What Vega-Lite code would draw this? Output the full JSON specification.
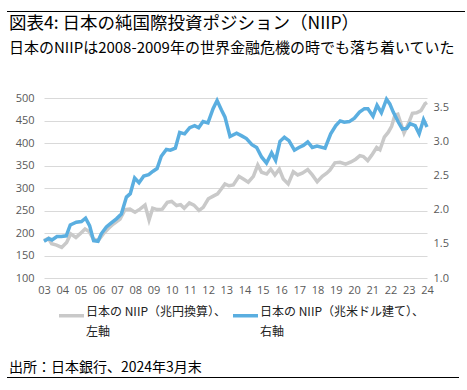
{
  "$schema": "https://vega.github.io/schema/vega-lite/v6.json",
  "padding": {"left": 7, "top": 11, "right": 0, "bottom": 0},
  "background": "white",
  "config": {"view": {"stroke": null}, "font": "Noto Sans CJK JP", "style": {"guide-label": {"lineHeight": 20}}},
  "spacing": 2,
  "datasets": {
    "yen": [
      {"t": 2003.0, "v": 183, "s": "日本の NIIP（兆円換算）、|左軸"},
      {"t": 2003.24, "v": 188, "s": "日本の NIIP（兆円換算）、|左軸"},
      {"t": 2003.42, "v": 176, "s": "日本の NIIP（兆円換算）、|左軸"},
      {"t": 2003.69, "v": 173, "s": "日本の NIIP（兆円換算）、|左軸"},
      {"t": 2003.97, "v": 168, "s": "日本の NIIP（兆円換算）、|左軸"},
      {"t": 2004.24, "v": 179, "s": "日本の NIIP（兆円換算）、|左軸"},
      {"t": 2004.46, "v": 198, "s": "日本の NIIP（兆円換算）、|左軸"},
      {"t": 2004.75, "v": 190, "s": "日本の NIIP（兆円換算）、|左軸"},
      {"t": 2004.97, "v": 198, "s": "日本の NIIP（兆円換算）、|左軸"},
      {"t": 2005.25, "v": 209, "s": "日本の NIIP（兆円換算）、|左軸"},
      {"t": 2005.48, "v": 203, "s": "日本の NIIP（兆円換算）、|左軸"},
      {"t": 2005.7, "v": 187, "s": "日本の NIIP（兆円換算）、|左軸"},
      {"t": 2005.97, "v": 183, "s": "日本の NIIP（兆円換算）、|左軸"},
      {"t": 2006.25, "v": 198, "s": "日本の NIIP（兆円換算）、|左軸"},
      {"t": 2006.53, "v": 210, "s": "日本の NIIP（兆円換算）、|左軸"},
      {"t": 2006.8, "v": 220, "s": "日本の NIIP（兆円換算）、|左軸"},
      {"t": 2007.17, "v": 231, "s": "日本の NIIP（兆円換算）、|左軸"},
      {"t": 2007.44, "v": 252, "s": "日本の NIIP（兆円換算）、|左軸"},
      {"t": 2007.71, "v": 253, "s": "日本の NIIP（兆円換算）、|左軸"},
      {"t": 2007.99, "v": 246, "s": "日本の NIIP（兆円換算）、|左軸"},
      {"t": 2008.26, "v": 253, "s": "日本の NIIP（兆円換算）、|左軸"},
      {"t": 2008.54, "v": 262, "s": "日本の NIIP（兆円換算）、|左軸"},
      {"t": 2008.76, "v": 229, "s": "日本の NIIP（兆円換算）、|左軸"},
      {"t": 2008.96, "v": 255, "s": "日本の NIIP（兆円換算）、|左軸"},
      {"t": 2009.21, "v": 252, "s": "日本の NIIP（兆円換算）、|左軸"},
      {"t": 2009.49, "v": 253, "s": "日本の NIIP（兆円換算）、|左軸"},
      {"t": 2009.76, "v": 268, "s": "日本の NIIP（兆円換算）、|左軸"},
      {"t": 2010.0, "v": 270, "s": "日本の NIIP（兆円換算）、|左軸"},
      {"t": 2010.27, "v": 261, "s": "日本の NIIP（兆円換算）、|左軸"},
      {"t": 2010.49, "v": 263, "s": "日本の NIIP（兆円換算）、|左軸"},
      {"t": 2010.69, "v": 255, "s": "日本の NIIP（兆円換算）、|左軸"},
      {"t": 2010.97, "v": 267, "s": "日本の NIIP（兆円換算）、|左軸"},
      {"t": 2011.22, "v": 262, "s": "日本の NIIP（兆円換算）、|左軸"},
      {"t": 2011.5, "v": 250, "s": "日本の NIIP（兆円換算）、|左軸"},
      {"t": 2011.73, "v": 257, "s": "日本の NIIP（兆円換算）、|左軸"},
      {"t": 2012.01, "v": 276, "s": "日本の NIIP（兆円換算）、|左軸"},
      {"t": 2012.28, "v": 282, "s": "日本の NIIP（兆円換算）、|左軸"},
      {"t": 2012.52, "v": 287, "s": "日本の NIIP（兆円換算）、|左軸"},
      {"t": 2012.74, "v": 299, "s": "日本の NIIP（兆円換算）、|左軸"},
      {"t": 2012.92, "v": 309, "s": "日本の NIIP（兆円換算）、|左軸"},
      {"t": 2013.14, "v": 305, "s": "日本の NIIP（兆円換算）、|左軸"},
      {"t": 2013.38, "v": 307, "s": "日本の NIIP（兆円換算）、|左軸"},
      {"t": 2013.69, "v": 326, "s": "日本の NIIP（兆円換算）、|左軸"},
      {"t": 2013.93, "v": 320, "s": "日本の NIIP（兆円換算）、|左軸"},
      {"t": 2014.2, "v": 313, "s": "日本の NIIP（兆円換算）、|左軸"},
      {"t": 2014.48, "v": 326, "s": "日本の NIIP（兆円換算）、|左軸"},
      {"t": 2014.72, "v": 351, "s": "日本の NIIP（兆円換算）、|左軸"},
      {"t": 2014.93, "v": 335, "s": "日本の NIIP（兆円換算）、|左軸"},
      {"t": 2015.21, "v": 331, "s": "日本の NIIP（兆円換算）、|左軸"},
      {"t": 2015.43, "v": 342, "s": "日本の NIIP（兆円換算）、|左軸"},
      {"t": 2015.66, "v": 329, "s": "日本の NIIP（兆円換算）、|左軸"},
      {"t": 2015.9, "v": 342, "s": "日本の NIIP（兆円換算）、|左軸"},
      {"t": 2016.12, "v": 320, "s": "日本の NIIP（兆円換算）、|左軸"},
      {"t": 2016.39, "v": 309, "s": "日本の NIIP（兆円換算）、|左軸"},
      {"t": 2016.67, "v": 336, "s": "日本の NIIP（兆円換算）、|左軸"},
      {"t": 2016.91, "v": 329, "s": "日本の NIIP（兆円換算）、|左軸"},
      {"t": 2017.16, "v": 333, "s": "日本の NIIP（兆円換算）、|左軸"},
      {"t": 2017.46, "v": 341, "s": "日本の NIIP（兆円換算）、|左軸"},
      {"t": 2017.71, "v": 329, "s": "日本の NIIP（兆円換算）、|左軸"},
      {"t": 2017.98, "v": 314, "s": "日本の NIIP（兆円換算）、|左軸"},
      {"t": 2018.26, "v": 326, "s": "日本の NIIP（兆円換算）、|左軸"},
      {"t": 2018.5, "v": 333, "s": "日本の NIIP（兆円換算）、|左軸"},
      {"t": 2018.68, "v": 340, "s": "日本の NIIP（兆円換算）、|左軸"},
      {"t": 2018.95, "v": 356, "s": "日本の NIIP（兆円換算）、|左軸"},
      {"t": 2019.23, "v": 357, "s": "日本の NIIP（兆円換算）、|左軸"},
      {"t": 2019.54, "v": 353, "s": "日本の NIIP（兆円換算）、|左軸"},
      {"t": 2019.83, "v": 358, "s": "日本の NIIP（兆円換算）、|左軸"},
      {"t": 2020.09, "v": 364, "s": "日本の NIIP（兆円換算）、|左軸"},
      {"t": 2020.32, "v": 372, "s": "日本の NIIP（兆円換算）、|左軸"},
      {"t": 2020.51, "v": 370, "s": "日本の NIIP（兆円換算）、|左軸"},
      {"t": 2020.75, "v": 361, "s": "日本の NIIP（兆円換算）、|左軸"},
      {"t": 2020.97, "v": 373, "s": "日本の NIIP（兆円換算）、|左軸"},
      {"t": 2021.24, "v": 390, "s": "日本の NIIP（兆円換算）、|左軸"},
      {"t": 2021.42, "v": 385, "s": "日本の NIIP（兆円換算）、|左軸"},
      {"t": 2021.66, "v": 413, "s": "日本の NIIP（兆円換算）、|左軸"},
      {"t": 2021.88, "v": 424, "s": "日本の NIIP（兆円換算）、|左軸"},
      {"t": 2022.06, "v": 437, "s": "日本の NIIP（兆円換算）、|左軸"},
      {"t": 2022.24, "v": 462, "s": "日本の NIIP（兆円換算）、|左軸"},
      {"t": 2022.4, "v": 464, "s": "日本の NIIP（兆円換算）、|左軸"},
      {"t": 2022.74, "v": 422, "s": "日本の NIIP（兆円換算）、|左軸"},
      {"t": 2022.97, "v": 442, "s": "日本の NIIP（兆円換算）、|左軸"},
      {"t": 2023.2, "v": 466, "s": "日本の NIIP（兆円換算）、|左軸"},
      {"t": 2023.43, "v": 467, "s": "日本の NIIP（兆円換算）、|左軸"},
      {"t": 2023.67, "v": 472, "s": "日本の NIIP（兆円換算）、|左軸"},
      {"t": 2023.89, "v": 487, "s": "日本の NIIP（兆円換算）、|左軸"},
      {"t": 2024.0, "v": 490, "s": "日本の NIIP（兆円換算）、|左軸"}
    ],
    "usd": [
      {"t": 2003.0, "v": 1.54, "s": "日本の NIIP（兆米ドル建て）、|右軸"},
      {"t": 2003.26, "v": 1.58, "s": "日本の NIIP（兆米ドル建て）、|右軸"},
      {"t": 2003.44, "v": 1.56, "s": "日本の NIIP（兆米ドル建て）、|右軸"},
      {"t": 2003.71, "v": 1.61, "s": "日本の NIIP（兆米ドル建て）、|右軸"},
      {"t": 2003.95, "v": 1.61, "s": "日本の NIIP（兆米ドル建て）、|右軸"},
      {"t": 2004.22, "v": 1.62, "s": "日本の NIIP（兆米ドル建て）、|右軸"},
      {"t": 2004.44, "v": 1.78, "s": "日本の NIIP（兆米ドル建て）、|右軸"},
      {"t": 2004.77, "v": 1.82, "s": "日本の NIIP（兆米ドル建て）、|右軸"},
      {"t": 2005.05, "v": 1.83, "s": "日本の NIIP（兆米ドル建て）、|右軸"},
      {"t": 2005.28, "v": 1.88, "s": "日本の NIIP（兆米ドル建て）、|右軸"},
      {"t": 2005.5, "v": 1.77, "s": "日本の NIIP（兆米ドル建て）、|右軸"},
      {"t": 2005.72, "v": 1.55, "s": "日本の NIIP（兆米ドル建て）、|右軸"},
      {"t": 2005.96, "v": 1.54, "s": "日本の NIIP（兆米ドル建て）、|右軸"},
      {"t": 2006.14, "v": 1.65, "s": "日本の NIIP（兆米ドル建て）、|右軸"},
      {"t": 2006.42, "v": 1.75, "s": "日本の NIIP（兆米ドル建て）、|右軸"},
      {"t": 2006.69, "v": 1.81, "s": "日本の NIIP（兆米ドル建て）、|右軸"},
      {"t": 2006.97, "v": 1.87, "s": "日本の NIIP（兆米ドル建て）、|右軸"},
      {"t": 2007.24, "v": 1.94, "s": "日本の NIIP（兆米ドル建て）、|右軸"},
      {"t": 2007.52, "v": 2.19, "s": "日本の NIIP（兆米ドル建て）、|右軸"},
      {"t": 2007.73, "v": 2.24, "s": "日本の NIIP（兆米ドル建て）、|右軸"},
      {"t": 2007.97, "v": 2.47, "s": "日本の NIIP（兆米ドル建て）、|右軸"},
      {"t": 2008.21, "v": 2.40, "s": "日本の NIIP（兆米ドル建て）、|右軸"},
      {"t": 2008.47, "v": 2.50, "s": "日本の NIIP（兆米ドル建て）、|右軸"},
      {"t": 2008.74, "v": 2.52, "s": "日本の NIIP（兆米ドル建て）、|右軸"},
      {"t": 2008.98, "v": 2.57, "s": "日本の NIIP（兆米ドル建て）、|右軸"},
      {"t": 2009.2, "v": 2.61, "s": "日本の NIIP（兆米ドル建て）、|右軸"},
      {"t": 2009.43, "v": 2.79, "s": "日本の NIIP（兆米ドル建て）、|右軸"},
      {"t": 2009.71, "v": 2.89, "s": "日本の NIIP（兆米ドル建て）、|右軸"},
      {"t": 2009.93, "v": 2.88, "s": "日本の NIIP（兆米ドル建て）、|右軸"},
      {"t": 2010.2, "v": 2.91, "s": "日本の NIIP（兆米ドル建て）、|右軸"},
      {"t": 2010.44, "v": 3.14, "s": "日本の NIIP（兆米ドル建て）、|右軸"},
      {"t": 2010.71, "v": 3.12, "s": "日本の NIIP（兆米ドル建て）、|右軸"},
      {"t": 2010.99, "v": 3.21, "s": "日本の NIIP（兆米ドル建て）、|右軸"},
      {"t": 2011.26, "v": 3.24, "s": "日本の NIIP（兆米ドル建て）、|右軸"},
      {"t": 2011.48, "v": 3.21, "s": "日本の NIIP（兆米ドル建て）、|右軸"},
      {"t": 2011.72, "v": 3.30, "s": "日本の NIIP（兆米ドル建て）、|右軸"},
      {"t": 2011.99, "v": 3.28, "s": "日本の NIIP（兆米ドル建て）、|右軸"},
      {"t": 2012.27, "v": 3.49, "s": "日本の NIIP（兆米ドル建て）、|右軸"},
      {"t": 2012.49, "v": 3.61, "s": "日本の NIIP（兆米ドル建て）、|右軸"},
      {"t": 2012.73, "v": 3.47, "s": "日本の NIIP（兆米ドル建て）、|右軸"},
      {"t": 2012.92, "v": 3.37, "s": "日本の NIIP（兆米ドル建て）、|右軸"},
      {"t": 2013.2, "v": 3.08, "s": "日本の NIIP（兆米ドル建て）、|右軸"},
      {"t": 2013.56, "v": 3.13, "s": "日本の NIIP（兆米ドル建て）、|右軸"},
      {"t": 2013.84, "v": 3.09, "s": "日本の NIIP（兆米ドル建て）、|右軸"},
      {"t": 2014.1, "v": 3.05, "s": "日本の NIIP（兆米ドル建て）、|右軸"},
      {"t": 2014.4, "v": 2.96, "s": "日本の NIIP（兆米ドル建て）、|右軸"},
      {"t": 2014.66, "v": 2.92, "s": "日本の NIIP（兆米ドル建て）、|右軸"},
      {"t": 2014.93, "v": 2.78, "s": "日本の NIIP（兆米ドル建て）、|右軸"},
      {"t": 2015.2, "v": 2.69, "s": "日本の NIIP（兆米ドル建て）、|右軸"},
      {"t": 2015.48, "v": 2.84, "s": "日本の NIIP（兆米ドル建て）、|右軸"},
      {"t": 2015.7, "v": 2.73, "s": "日本の NIIP（兆米ドル建て）、|右軸"},
      {"t": 2015.94, "v": 3.01, "s": "日本の NIIP（兆米ドル建て）、|右軸"},
      {"t": 2016.18, "v": 3.07, "s": "日本の NIIP（兆米ドル建て）、|右軸"},
      {"t": 2016.43, "v": 3.02, "s": "日本の NIIP（兆米ドル建て）、|右軸"},
      {"t": 2016.73, "v": 2.88, "s": "日本の NIIP（兆米ドル建て）、|右軸"},
      {"t": 2016.98, "v": 2.92, "s": "日本の NIIP（兆米ドル建て）、|右軸"},
      {"t": 2017.22, "v": 2.95, "s": "日本の NIIP（兆米ドル建て）、|右軸"},
      {"t": 2017.46, "v": 3.00, "s": "日本の NIIP（兆米ドル建て）、|右軸"},
      {"t": 2017.71, "v": 2.92, "s": "日本の NIIP（兆米ドル建て）、|右軸"},
      {"t": 2017.97, "v": 2.94, "s": "日本の NIIP（兆米ドル建て）、|右軸"},
      {"t": 2018.41, "v": 2.91, "s": "日本の NIIP（兆米ドル建て）、|右軸"},
      {"t": 2018.72, "v": 3.12, "s": "日本の NIIP（兆米ドル建て）、|右軸"},
      {"t": 2019.0, "v": 3.24, "s": "日本の NIIP（兆米ドル建て）、|右軸"},
      {"t": 2019.24, "v": 3.31, "s": "日本の NIIP（兆米ドル建て）、|右軸"},
      {"t": 2019.46, "v": 3.29, "s": "日本の NIIP（兆米ドル建て）、|右軸"},
      {"t": 2019.74, "v": 3.30, "s": "日本の NIIP（兆米ドル建て）、|右軸"},
      {"t": 2020.02, "v": 3.35, "s": "日本の NIIP（兆米ドル建て）、|右軸"},
      {"t": 2020.3, "v": 3.44, "s": "日本の NIIP（兆米ドル建て）、|右軸"},
      {"t": 2020.57, "v": 3.49, "s": "日本の NIIP（兆米ドル建て）、|右軸"},
      {"t": 2020.76, "v": 3.49, "s": "日本の NIIP（兆米ドル建て）、|右軸"},
      {"t": 2021.04, "v": 3.38, "s": "日本の NIIP（兆米ドル建て）、|右軸"},
      {"t": 2021.26, "v": 3.54, "s": "日本の NIIP（兆米ドル建て）、|右軸"},
      {"t": 2021.5, "v": 3.43, "s": "日本の NIIP（兆米ドル建て）、|右軸"},
      {"t": 2021.78, "v": 3.63, "s": "日本の NIIP（兆米ドル建て）、|右軸"},
      {"t": 2021.96, "v": 3.56, "s": "日本の NIIP（兆米ドル建て）、|右軸"},
      {"t": 2022.15, "v": 3.44, "s": "日本の NIIP（兆米ドル建て）、|右軸"},
      {"t": 2022.43, "v": 3.29, "s": "日本の NIIP（兆米ドル建て）、|右軸"},
      {"t": 2022.65, "v": 3.19, "s": "日本の NIIP（兆米ドル建て）、|右軸"},
      {"t": 2022.89, "v": 3.20, "s": "日本の NIIP（兆米ドル建て）、|右軸"},
      {"t": 2023.07, "v": 3.27, "s": "日本の NIIP（兆米ドル建て）、|右軸"},
      {"t": 2023.35, "v": 3.24, "s": "日本の NIIP（兆米ドル建て）、|右軸"},
      {"t": 2023.57, "v": 3.12, "s": "日本の NIIP（兆米ドル建て）、|右軸"},
      {"t": 2023.81, "v": 3.33, "s": "日本の NIIP（兆米ドル建て）、|右軸"},
      {"t": 2024.0, "v": 3.22, "s": "日本の NIIP（兆米ドル建て）、|右軸"}
    ]
  },
  "vconcat": [
    {
      "width": 458, "height": 1,
      "view": {"fill": "black", "stroke": null},
      "data": {"values": []},
      "mark": "point",
      "encoding": {}
    },
    {
      "title": {
        "text": "図表4: 日本の純国際投資ポジション（NIIP）",
        "subtitle": "日本のNIIPは2008-2009年の世界金融危機の時でも落ち着いていた",
        "anchor": "start", "frame": "bounds",
        "fontSize": 17.5, "fontWeight": "normal", "color": "#000000",
        "subtitleFontSize": 15, "subtitleFontWeight": "normal", "subtitleColor": "#000000",
        "subtitlePadding": 9, "offset": 36, "dx": 2
      },
      "spacing": 7,
      "hconcat": [
        {
          "width": 1, "height": 1,
          "data": {"values": []},
          "mark": "point",
          "encoding": {}
        },
        {
          "width": 383, "height": 180,
          "encoding": {
            "x": {"field": "t", "type": "quantitative",
              "scale": {"domain": [2003, 2024], "nice": false, "zero": false},
              "axis": {"title": null, "values": [2003,2004,2005,2006,2007,2008,2009,2010,2011,2012,2013,2014,2015,2016,2017,2018,2019,2020,2021,2022,2023,2024],
                "labelExpr": "slice(format(datum.value, 'd'), 2)", "ticks": false, "domain": false, "grid": false,
                "labelPadding": 6, "labelFontSize": 11, "labelColor": "#595959", "labelFont": "Open Sans", "labelFlush": false, "labelOverlap": false, "labelBound": false}},
            "color": {"field": "s", "type": "nominal",
              "scale": {"domain": ["日本の NIIP（兆円換算）、|左軸", "日本の NIIP（兆米ドル建て）、|右軸"], "range": ["#c9c9c9", "#5aaee0"]},
              "legend": {"title": null, "orient": "none", "legendX": 50, "legendY": 290, "direction": "horizontal",
                "symbolType": "stroke", "symbolSize": 625, "symbolStrokeWidth": 3.5,
                "labelExpr": "split(datum.label, '|')", "labelFontSize": 12, "labelColor": "#222222", "labelLimit": 400,
                "labelBaseline": "alphabetic", "labelOffset": 0, "columnPadding": 0, "padding": 0}}
          },
          "layer": [
            {
              "data": {"name": "yen"},
              "mark": {"type": "line", "strokeWidth": 3.5},
              "encoding": {
                "y": {"field": "v", "type": "quantitative",
                  "scale": {"domain": [100, 500], "nice": false, "zero": false},
                  "axis": {"title": null, "orient": "left", "values": [100,150,200,250,300,350,400,450,500],
                    "ticks": false, "domain": false, "grid": true, "gridColor": "#d9d9d9", "gridWidth": 1,
                    "labelPadding": 10, "labelFontSize": 11, "labelColor": "#595959", "labelFont": "Open Sans"}}
              }
            },
            {
              "data": {"name": "usd"},
              "mark": {"type": "line", "strokeWidth": 3.5},
              "encoding": {
                "y": {"field": "v", "type": "quantitative",
                  "scale": {"domain": [1, 3.647], "nice": false, "zero": false},
                  "axis": {"title": null, "orient": "right", "values": [1,1.5,2,2.5,3,3.5], "format": ".1f",
                    "ticks": false, "domain": false, "grid": false,
                    "labelPadding": 6, "labelFontSize": 11, "labelColor": "#595959", "labelFont": "Open Sans"}}
              }
            }
          ],
          "resolve": {"scale": {"y": "independent"}}
        }
      ]
    },
    {
      "width": 1, "height": 62,
      "data": {"values": []},
      "mark": "point",
      "encoding": {}
    },
    {
      "width": 452, "height": 1,
      "view": {"fill": "black", "stroke": null},
      "data": {"values": []},
      "mark": "point",
      "encoding": {},
      "title": {"text": "出所：日本銀行、2024年3月末", "anchor": "start", "fontSize": 14, "fontWeight": "normal", "color": "#000000", "offset": 2, "dx": 2}
    }
  ]
}
